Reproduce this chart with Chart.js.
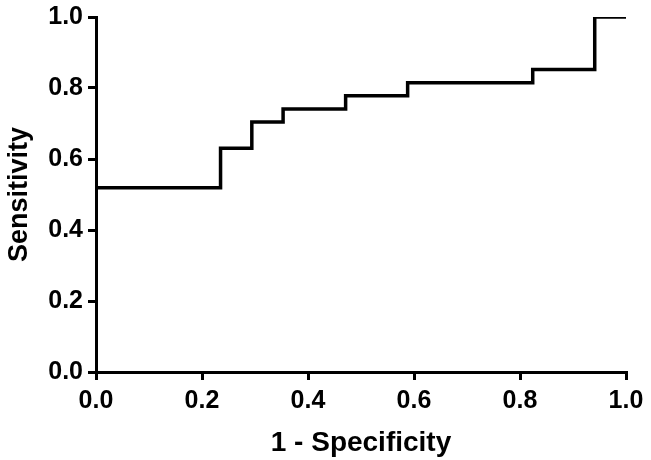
<!DOCTYPE html>
<html>
<head>
<meta charset="utf-8">
<script src="https://cdn.jsdelivr.net/npm/chart.js@4"></script>
<style>
  html, body { margin: 0; padding: 0; background: #fff; }
  #wrap { width: 651px; height: 460px; }
</style>
</head>
<body>
<div id="wrap"><canvas id="c" width="651" height="460"></canvas></div>
<script>
// ROC curve coordinates (1 - Specificity, Sensitivity)
const fpr = [0.0, 0.235, 0.235, 0.294, 0.294, 0.353, 0.353, 0.471, 0.471, 0.588, 0.588, 0.824, 0.824, 0.941, 0.941, 1.0];
const tpr = [0.519, 0.519, 0.630, 0.630, 0.704, 0.704, 0.741, 0.741, 0.778, 0.778, 0.815, 0.815, 0.852, 0.852, 1.0, 1.0];
const xTicks = [0.0, 0.2, 0.4, 0.6, 0.8, 1.0];
const yTicks = [0.0, 0.2, 0.4, 0.6, 0.8, 1.0];
const xTitle = '1 - Specificity';
const yTitle = 'Sensitivity';

const points = fpr.map((x, i) => ({ x: x, y: tpr[i] }));
const FONT = '"Liberation Sans", Arial, sans-serif';

new Chart(document.getElementById('c'), {
  type: 'scatter',
  data: {
    datasets: [{
      data: points,
      showLine: true,
      borderColor: '#000',
      borderWidth: 3.5,
      pointRadius: 0,
      fill: false,
      tension: 0,
      borderCapStyle: 'butt',
      borderJoinStyle: 'miter'
    }]
  },
  options: {
    responsive: false,
    animation: false,
    devicePixelRatio: 1,
    layout: { padding: { top: 17, right: 25, left: 0, bottom: 0 } },
    plugins: { legend: { display: false }, tooltip: { enabled: false } },
    scales: {
      x: {
        type: 'linear',
        min: 0, max: 1,
        afterBuildTicks: s => { s.ticks = xTicks.map(v => ({ value: v })); },
        afterFit: s => { s.height = 88; s.paddingLeft = 0; s.paddingRight = 0; },
        border: { display: true, color: '#000', width: 3 },
        grid: { drawOnChartArea: false, drawTicks: true, tickLength: 8, color: '#000', lineWidth: 3 },
        ticks: { color: '#000', padding: 6, font: { family: FONT, size: 25, weight: 'bold' }, callback: v => v.toFixed(1), maxRotation: 0 },
        title: { display: true, text: xTitle, color: '#000', font: { family: FONT, size: 28, weight: 'bold' }, padding: { top: 4, bottom: 0 } }
      },
      y: {
        type: 'linear',
        min: 0, max: 1,
        afterBuildTicks: s => { s.ticks = yTicks.map(v => ({ value: v })); },
        afterFit: s => { s.width = 96; s.paddingTop = 0; s.paddingBottom = 0; },
        border: { display: true, color: '#000', width: 3 },
        grid: { drawOnChartArea: false, drawTicks: true, tickLength: 8, color: '#000', lineWidth: 3 },
        ticks: { color: '#000', padding: 5, font: { family: FONT, size: 25, weight: 'bold' }, callback: v => v.toFixed(1) },
        title: { display: true, text: yTitle, color: '#000', font: { family: FONT, size: 27, weight: 'bold' }, padding: { top: 3, bottom: 0 } }
      }
    }
  }
});
</script>
</body>
</html>
